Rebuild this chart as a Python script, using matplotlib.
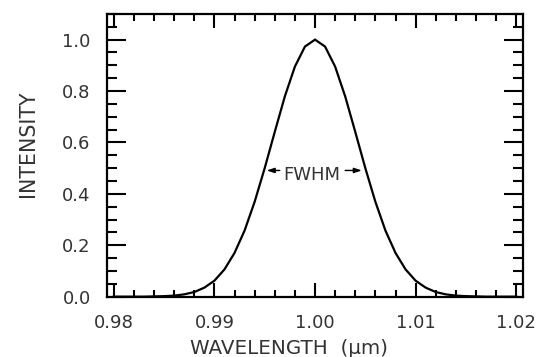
import matplotlib
matplotlib.use("Agg")
import matplotlib.pyplot as plt
from matplotlib.ticker import MultipleLocator, FormatStrFormatter

# Data
wavelength = [0.980, 0.981, 0.982, 0.983, 0.984, 0.985, 0.986, 0.987, 0.988, 0.989,
              0.990, 0.991, 0.992, 0.993, 0.994, 0.995, 0.996, 0.997, 0.998, 0.999,
              1.000, 1.001, 1.002, 1.003, 1.004, 1.005, 1.006, 1.007, 1.008, 1.009,
              1.010, 1.011, 1.012, 1.013, 1.014, 1.015, 1.016, 1.017, 1.018, 1.019,
              1.020]
intensity = [0.000, 0.000, 0.000, 0.000, 0.001, 0.002, 0.004, 0.009, 0.018, 0.035,
             0.062, 0.106, 0.170, 0.257, 0.369, 0.500, 0.641, 0.779, 0.895, 0.973,
             1.000, 0.973, 0.895, 0.779, 0.641, 0.500, 0.369, 0.257, 0.170, 0.106,
             0.062, 0.035, 0.018, 0.009, 0.004, 0.002, 0.001, 0.000, 0.000, 0.000,
             0.000]
fwhm_label = "FWHM"
fwhm_left = (0.9952, 0.9965)
fwhm_right = (1.0030, 1.00465)
fwhm_y = 0.491
x_label = "WAVELENGTH  (μm)"
y_label = "INTENSITY"

plt.rcParams['font.family'] = ['DejaVu Sans']

fig = plt.figure(figsize=(5.5, 3.57), dpi=100)
ax = fig.add_axes([0.194, 0.169, 0.7575, 0.792])

ax.plot(wavelength, intensity, color='black', lw=1.6, solid_joinstyle='miter')

ax.set_xlim(0.9793, 1.0207)
ax.set_ylim(0.0, 1.10)

ax.xaxis.set_major_locator(MultipleLocator(0.01))
ax.xaxis.set_minor_locator(MultipleLocator(0.002))
ax.yaxis.set_major_locator(MultipleLocator(0.2))
ax.yaxis.set_minor_locator(MultipleLocator(0.05))
ax.xaxis.set_major_formatter(FormatStrFormatter('%.2f'))
ax.yaxis.set_major_formatter(FormatStrFormatter('%.1f'))

for s in ax.spines.values():
    s.set_linewidth(1.6)

ax.tick_params(axis='both', which='both', direction='in', top=True, right=True,
               width=1.5, colors='black', labelsize=13, labelcolor='#333333')
ax.tick_params(axis='x', which='major', length=10.0, pad=12.5)
ax.tick_params(axis='x', which='minor', length=5.0)
ax.tick_params(axis='y', which='major', length=13.5, pad=11.5)
ax.tick_params(axis='y', which='minor', length=7.0)

ax.set_xlabel(x_label, fontsize=14.3, color='#333333')
ax.set_ylabel(y_label, fontsize=14.8, color='#333333')
ax.xaxis.set_label_coords(0.4376, -0.150)
ax.yaxis.set_label_coords(-0.165, 0.542)

ax.text(0.99967, 0.455, fwhm_label, ha='center', va='baseline', fontsize=13,
        color='#333333')
arrow_kw = dict(arrowstyle='-|>,head_length=0.45,head_width=0.15', color='black',
                lw=1.0, shrinkA=0, shrinkB=0)
ax.annotate('', xy=(fwhm_left[0], fwhm_y), xytext=(fwhm_left[1], fwhm_y),
            arrowprops=arrow_kw)
ax.annotate('', xy=(fwhm_right[1], fwhm_y), xytext=(fwhm_right[0], fwhm_y),
            arrowprops=arrow_kw)

fig.savefig('out.png', dpi=100)
